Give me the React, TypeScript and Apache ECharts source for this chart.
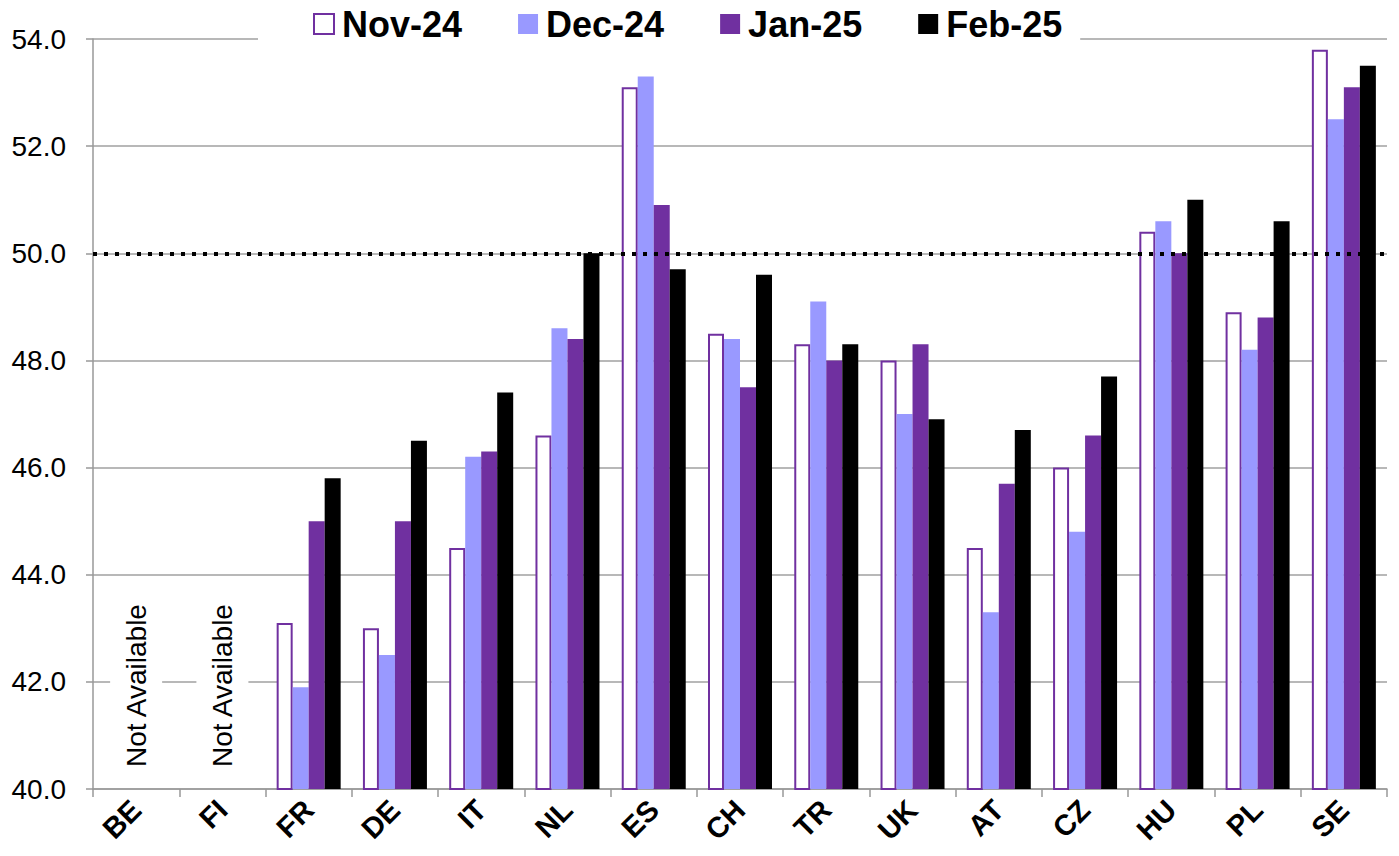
import React, { useEffect, useRef } from "react";
import * as echarts from "echarts";

const categories = ["BE", "FI", "FR", "DE", "IT", "NL", "ES", "CH", "TR", "UK", "AT", "CZ", "HU", "PL", "SE"];
const seriesNames = ["Nov-24", "Dec-24", "Jan-25", "Feb-25"];
const nov24 = [40, 40, 43.1, 43.0, 44.5, 46.6, 53.1, 48.5, 48.3, 48.0, 44.5, 46.0, 50.4, 48.9, 53.8];
const dec24 = [40, 40, 41.9, 42.5, 46.2, 48.6, 53.3, 48.4, 49.1, 47.0, 43.3, 44.8, 50.6, 48.2, 52.5];
const jan25 = [40, 40, 45.0, 45.0, 46.3, 48.4, 50.9, 47.5, 48.0, 48.3, 45.7, 46.6, 50.0, 48.8, 53.1];
const feb25 = [40, 40, 45.8, 46.5, 47.4, 50.0, 49.7, 49.6, 48.3, 46.9, 46.7, 47.7, 51.0, 50.6, 53.5];
const notAvailable = ["BE", "FI"];
const notAvailableText = "Not Available";
const yMin = 40;
const yMax = 54;
const yInterval = 2;
const threshold = 50;

const FONT = '"Liberation Sans", Arial, sans-serif';

export default function App() {
  const ref = useRef<HTMLDivElement>(null);

  useEffect(() => {
    if (!ref.current) return;
    const chart = echarts.init(ref.current, null, { renderer: "svg" });

    const barBase = {
      type: "bar" as const,
      barWidth: 16,
      barGap: "0%",
      barMinHeight: 2,
    };

    const option: any = {
      animation: false,
      backgroundColor: "#ffffff",
      textStyle: { fontFamily: FONT },
      legend: {
        data: seriesNames,
        left: 258,
        top: 0,
        icon: "rect",
        itemWidth: 20,
        itemHeight: 20,
        itemGap: 56,
        padding: [4, 18, 4, 55],
        backgroundColor: "#ffffff",
        textStyle: {
          fontFamily: FONT,
          fontSize: 36,
          fontWeight: "bold",
          color: "#000000",
          lineHeight: 40,
          padding: [0, 0, 0, 3],
        },
        z: 10,
      },
      grid: {
        left: 93,
        right: 12,
        top: 39,
        bottom: 67,
        containLabel: false,
      },
      xAxis: {
        type: "category",
        data: categories,
        axisLine: { show: true, lineStyle: { color: "#999999", width: 1.5 } },
        axisTick: { show: true, length: 8, alignWithLabel: false, lineStyle: { color: "#999999", width: 1.5 } },
        axisLabel: {
          rotate: 45,
          margin: 16,
          fontFamily: FONT,
          fontSize: 29,
          fontWeight: "bold",
          color: "#000000",
          interval: 0,
        },
        splitLine: { show: false },
      },
      yAxis: {
        type: "value",
        min: yMin,
        max: yMax,
        interval: yInterval,
        axisLine: { show: true, lineStyle: { color: "#999999", width: 1.5 } },
        axisTick: { show: true, length: 7, lineStyle: { color: "#999999", width: 1.5 } },
        axisLabel: {
          fontFamily: FONT,
          fontSize: 28,
          color: "#000000",
          margin: 27,
          formatter: (v: number) => v.toFixed(1),
        },
        splitLine: { show: true, lineStyle: { color: "#a0a0a0", width: 1.5 } },
      },
      series: [
        {
          ...barBase,
          name: seriesNames[0],
          data: nov24,
          itemStyle: { color: "#ffffff", borderColor: "#7030A0", borderWidth: 2 },
        },
        {
          ...barBase,
          name: seriesNames[1],
          data: dec24,
          itemStyle: { color: "#9999FF" },
        },
        {
          ...barBase,
          name: seriesNames[2],
          data: jan25,
          itemStyle: { color: "#7030A0" },
        },
        {
          ...barBase,
          name: seriesNames[3],
          data: feb25,
          itemStyle: { color: "#000000" },
          markLine: {
            silent: true,
            symbol: ["none", "none"],
            label: { show: false },
            lineStyle: { color: "#000000", width: 4, type: [4, 7] },
            data: [{ yAxis: threshold }],
          },
        },
      ],
    };

    chart.setOption(option);

    const texts = notAvailable.map((cat) => {
      const idx = categories.indexOf(cat);
      const p = chart.convertToPixel({ gridIndex: 0 }, [idx, yMin]) as number[];
      return {
        type: "text",
        x: p[0],
        y: p[1] - 22,
        rotation: Math.PI / 2,
        z: 100,
        style: {
          text: notAvailableText,
          font: `28px ${FONT}`,
          fill: "#000000",
          align: "left",
          verticalAlign: "middle",
          textAlign: "left",
          textVerticalAlign: "middle",
          backgroundColor: "#ffffff",
          padding: [12, 0, 12, 0],
        },
      };
    });

    chart.setOption({ graphic: texts });

    return () => {
      chart.dispose();
    };
  }, []);

  return (
    <div
      ref={ref}
      style={{ position: "fixed", left: 0, top: 0, width: 1399, height: 856 }}
    />
  );
}
